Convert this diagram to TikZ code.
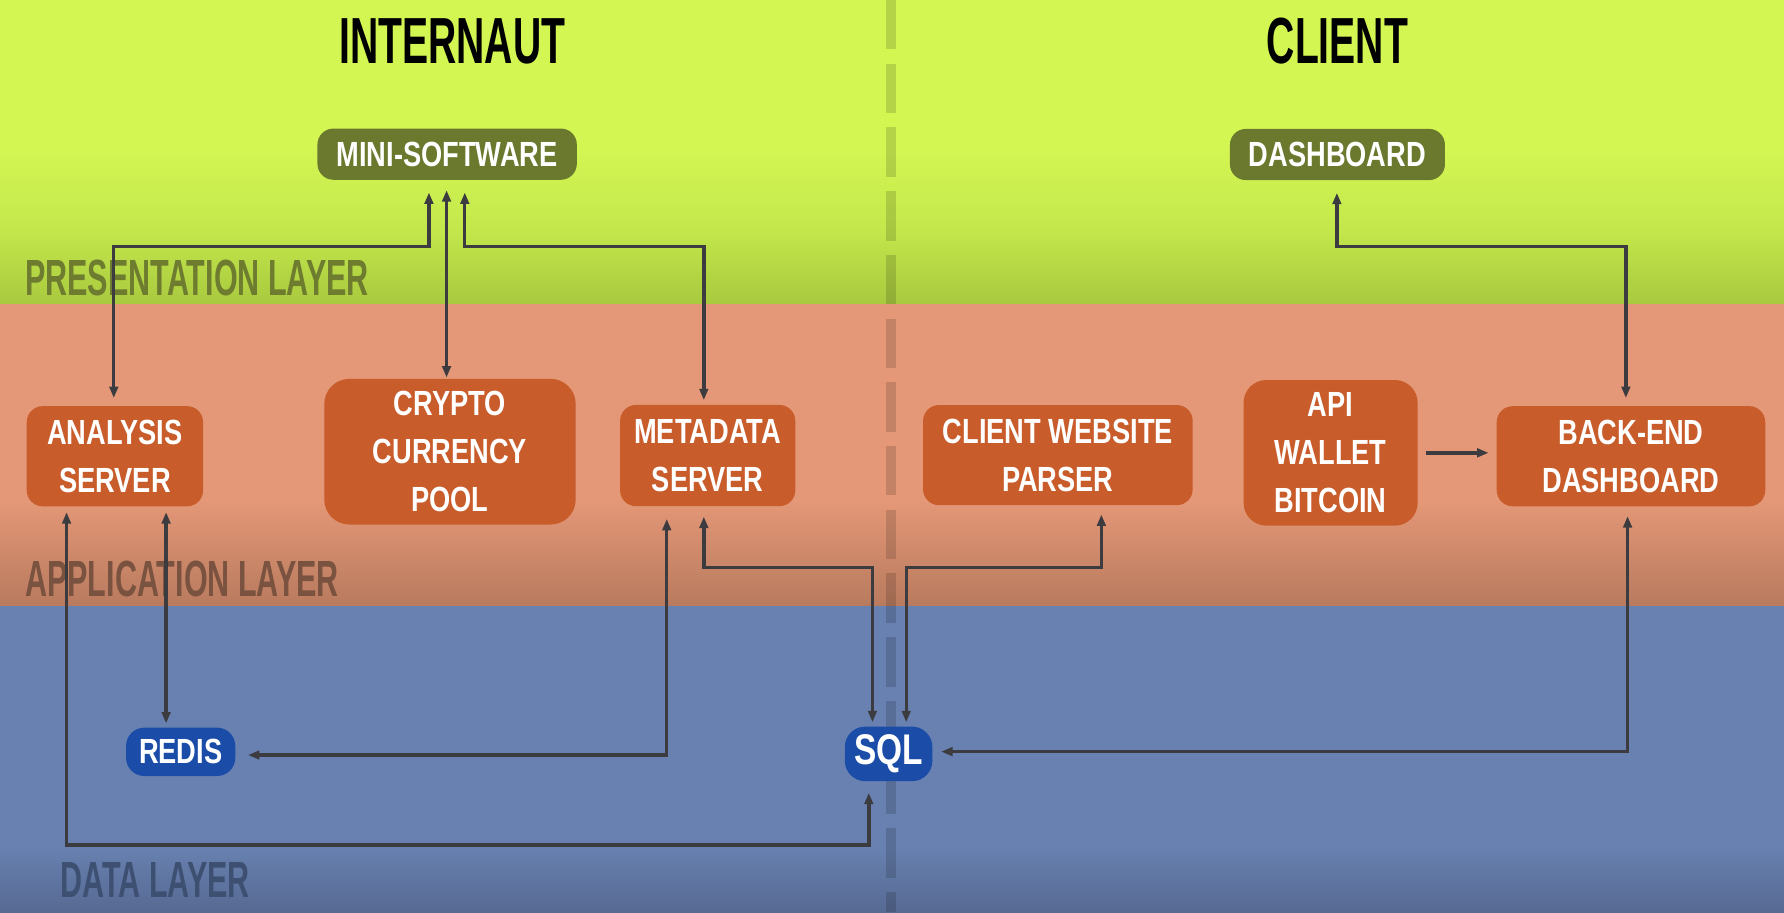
\documentclass[tikz,border=0pt]{standalone}
\usepackage{fontspec}
\setmainfont{Liberation Sans}
\newfontfamily\boxfont[FakeStretch=0.78]{Liberation Sans}
\newfontfamily\titlefont[FakeStretch=0.6]{Liberation Sans}
\newfontfamily\layerfont[FakeStretch=0.6]{Liberation Sans}
\usetikzlibrary{arrows.meta,calc}
\definecolor{gTop}{RGB}{211,246,83}
\definecolor{gMid}{RGB}{196,232,76}
\definecolor{gBot}{RGB}{168,201,62}
\definecolor{oTop}{RGB}{228,152,119}
\definecolor{oBot}{RGB}{184,122,94}
\definecolor{bTop}{RGB}{104,129,176}
\definecolor{bBot}{RGB}{86,105,146}
\definecolor{olive}{RGB}{106,121,46}
\definecolor{rust}{RGB}{201,92,43}
\definecolor{navy}{RGB}{26,76,168}
\definecolor{wire}{RGB}{60,60,64}
\definecolor{presc}{RGB}{110,124,48}
\definecolor{appc}{RGB}{122,82,64}
\definecolor{datac}{RGB}{62,80,114}
\tikzset{
  boxtext/.style={font=\boxfont\bfseries\fontsize{30.7}{42}\selectfont},
  rbox/.style={boxtext, fill=rust, text=white, rounded corners=14pt, inner sep=0pt, align=center},
  gbox/.style={boxtext, fill=olive, text=white, rounded corners=14pt, inner sep=0pt},
  dbbox/.style={boxtext, fill=navy, text=white, rounded corners=16pt, inner sep=0pt},
  conn/.style={draw=wire, line width=3pt, arrows={Triangle[length=10pt,width=7.5pt]-Triangle[length=10pt,width=7.5pt]}},
  conn1/.style={draw=wire, line width=3pt, arrows={-Triangle[length=10pt,width=7.5pt]}},
  layerlab/.style={anchor=base west, inner sep=0pt, font=\layerfont\bfseries\fontsize{44.7}{44.7}\selectfont},
  headlab/.style={anchor=base, inner sep=0pt, font=\titlefont\bfseries\fontsize{57.3}{57.3}\selectfont},
  divider/.style={black, opacity=0.14, line width=9pt, dash pattern=on 43.5pt off 12.5pt}
}
\begin{document}
\begin{tikzpicture}[x=1pt,y=-1pt]
\useasboundingbox (0,0) rectangle (1568,802);
% layer bands
\fill[gTop] (0,0) rectangle (1568,130);
\shade[top color=gTop,bottom color=gMid] (0,129.5) rectangle (1568,200);
\shade[top color=gMid,bottom color=gBot] (0,199.5) rectangle (1568,268);
\fill[oTop] (0,267.5) rectangle (1568,440);
\shade[top color=oTop,bottom color=oBot] (0,439.5) rectangle (1568,533);
\fill[bTop] (0,532.5) rectangle (1568,745);
\shade[top color=bTop,bottom color=bBot] (0,744.5) rectangle (1568,802);
% divider
\coordinate (divTop) at (783,0);
\coordinate (divBot) at (783,802);
\draw[divider] (divTop) -- (divBot);
% titles and layer labels
\node[headlab] (tInternaut) at (397.5,55.7) {INTERNAUT};
\node[headlab] (tClient) at (1175.5,55.7) {CLIENT};
\node[layerlab, text=presc] (lPres) at (22,259.3) {PRESENTATION LAYER};
\node[layerlab, text=appc] (lApp) at (22,524) {APPLICATION LAYER};
\node[layerlab, text=datac] (lData) at (53,789) {DATA LAYER};
% nodes
\node[gbox, minimum width=228pt, minimum height=45pt] (mini) at (393,135.5) {MINI-SOFTWARE};
\node[gbox, minimum width=189pt, minimum height=45pt] (dashb) at (1175.5,135.8) {DASHBOARD};
\node[rbox, minimum width=155pt, minimum height=88pt] (ana) at (101,401) {ANALYSIS\\SERVER};
\node[rbox, minimum width=221pt, minimum height=128pt, rounded corners=22pt] (crypto) at (395.5,397) {\raisebox{-3pt}{CRYPTO}\\\raisebox{-3pt}{CURRENCY}\\\raisebox{-3pt}{POOL}};
\node[rbox, minimum width=154pt, minimum height=89pt] (meta) at (622,400.4) {METADATA\\SERVER};
\node[rbox, minimum width=237pt, minimum height=88pt] (cwp) at (929.8,400) {CLIENT WEBSITE\\PARSER};
\node[rbox, minimum width=153pt, minimum height=128pt, rounded corners=20pt] (api) at (1169.5,398) {API\\WALLET\\BITCOIN};
\node[rbox, minimum width=236pt, minimum height=88pt] (bed) at (1433.5,401) {BACK-END\\DASHBOARD};
\node[dbbox, minimum width=96pt, minimum height=42.5pt] (redis) at (158.8,660.8) {REDIS};
\node[dbbox, minimum width=77pt, minimum height=48pt, rounded corners=18pt, font=\boxfont\bfseries\fontsize{37.7}{40}\selectfont] (sql) at (781,662.6) {SQL};
% connectors
\coordinate (busP) at (0,216.8);
\draw[conn] ($(mini.south)+(-16,11)$) |- ($(busP -| ana.north)+(-1,0)$) -- ($(ana.north)+(-1,-7)$);
\draw[conn] ($(mini.south)+(-0.5,9)$) -- ($(mini.south |- crypto.north)+(-0.5,-1)$);
\draw[conn] ($(mini.south)+(15.5,11)$) |- ($(busP -| meta.north)+(-3.4,0)$) -- ($(meta.north)+(-3.4,-4)$);
\draw[conn] ($(dashb.south)+(-0.5,11)$) |- ($(busP -| bed.north)+(-4.5,0)$) -- ($(bed.north)+(-4.5,-7)$);
\draw[conn] ($(ana.south)+(-42.5,5)$) |- ($(sql.south)+(-17.4,56)$) -- ($(sql.south)+(-17.4,10)$);
\draw[conn] ($(ana.south)+(45,5)$) -- ($(redis.north)+(-12.8,-3.5)$);
\draw[conn] ($(meta.south)+(-36,11)$) |- ($(redis.east)+(11,2.8)$);
\draw[conn] ($(meta.south)+(-3.4,9)$) |- ($(sql.north)+(-14.2,-139.6)$) -- ($(sql.north)+(-14.2,-3.6)$);
\draw[conn] ($(cwp.south)+(38.2,8)$) |- ($(sql.north)+(15.5,-139.6)$) -- ($(sql.north)+(15.5,-3.6)$);
\draw[conn] ($(bed.south)+(-3,8.5)$) |- ($(sql.east)+(7.5,-2)$);
\draw[conn1] ($(api.east)+(7,0)$) -- ($(api.east -| bed.west)+(-7,0)$);
\end{tikzpicture}
\end{document}
